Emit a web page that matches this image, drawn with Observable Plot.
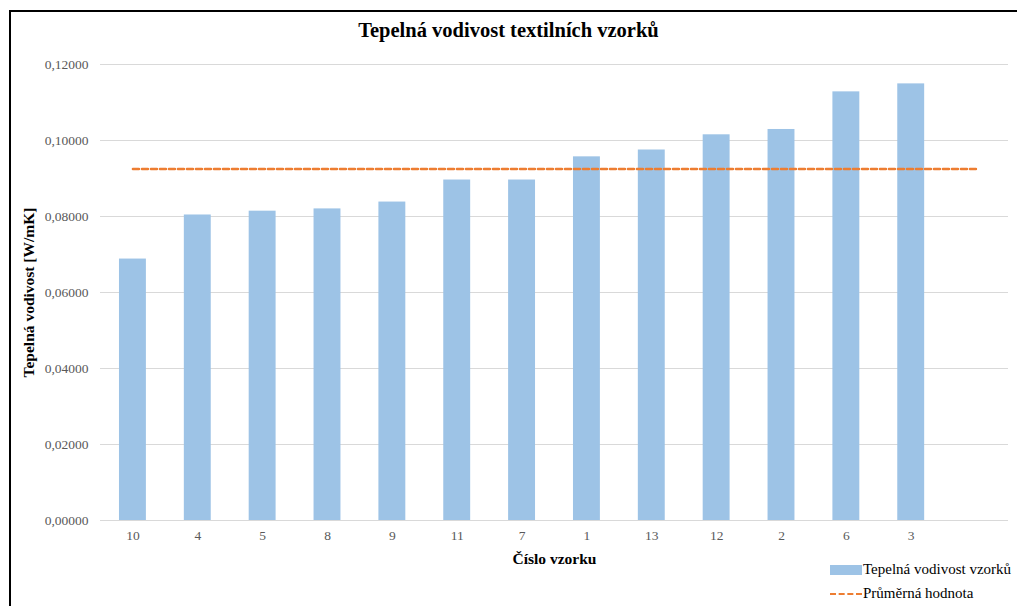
<!DOCTYPE html>
<html><head><meta charset="utf-8">
<script src="https://cdn.jsdelivr.net/npm/d3@7"></script>
<script src="https://cdn.jsdelivr.net/npm/@observablehq/plot@0.6"></script>
<style>
body{margin:0;background:#fff;}
#wrap{position:relative;width:1017px;height:606px;overflow:hidden;font-family:"Liberation Serif","Times New Roman",serif;background:#fff;}
#frame{position:absolute;left:9px;top:10px;width:1100px;height:700px;border-left:2px solid #000;border-top:2px solid #000;}
#title{position:absolute;left:0;width:1017px;top:19px;text-align:center;font-weight:bold;font-size:20.5px;color:#000;}
#chart{position:absolute;left:0;top:50px;}
#chart svg g[aria-label="x-axis label"] text,
#chart svg g[aria-label="y-axis label"] text{font-weight:bold;fill:#000;font-size:15.5px;}
.lg{position:absolute;left:830px;font-size:15px;color:#000;display:flex;align-items:center;}
.sw{display:inline-block;width:32px;height:10px;background:#9dc3e6;margin-right:1px;}
.dl{display:inline-block;width:32px;height:0;border-top:2.5px dashed #ed7d31;margin-right:1px;}
</style>
</head><body>
<div id="wrap">
  <div id="frame"></div>
  <div id="title">Tepelná vodivost textilních vzorků</div>
  <div id="chart"></div>
  <div class="lg" style="top:561px"><span class="sw"></span>Tepelná vodivost vzorků</div>
  <div class="lg" style="top:585px"><span class="dl"></span>Průměrná hodnota</div>
</div>
<script>
const samples = ["10","4","5","8","9","11","7","1","13","12","2","6","3"];
const values  = [0.0688,0.0804,0.0814,0.0820,0.0838,0.0896,0.0896,0.0957,0.0975,0.1015,0.1029,0.1128,0.1149];
const emptySlot = " ";
const averageValue = 0.0925;
const yTicks = [0,0.02,0.04,0.06,0.08,0.10,0.12];

const allCats = [...samples, emptySlot];
const barData = samples.map((s,i)=>({sample:s, value:values[i]}));
const lineData = allCats.map(c=>({sample:c, value:averageValue}));
const fmt = d => d.toFixed(5).replace(".", ",");

const chart = Plot.plot({
  width: 1017,
  height: 520,
  marginTop: 14,
  marginBottom: 50,
  marginLeft: 100,
  marginRight: 9,
  style: {fontFamily: '"Liberation Serif","Times New Roman",serif', fontSize: "13.5px", background: "transparent"},
  x: {domain: allCats, paddingInner: 0.585, paddingOuter: 0.2925, round: false},
  y: {domain: [0, 0.12]},
  marks: [
    Plot.gridY(yTicks, {stroke: "#d9d9d9", strokeOpacity: 1, strokeWidth: 1}),
    Plot.barY(barData, {x: "sample", y: "value", fill: "#9dc3e6"}),
    Plot.ruleY([0], {stroke: "#d9d9d9", strokeWidth: 1.2}),
    Plot.line(lineData, {x: "sample", y: "value", stroke: "#ed7d31", strokeWidth: 2.5, strokeDasharray: "6,3"}),
    Plot.axisY({ticks: yTicks, tickFormat: fmt, tickSize: 0, tickPadding: 12, color: "#595959",
      label: "Tepelná vodivost [W/mK]", labelAnchor: "center", labelOffset: 78, labelArrow: "none"}),
    Plot.axisX({tickSize: 0, tickPadding: 10, color: "#595959",
      label: "Číslo vzorku", labelAnchor: "center", labelOffset: 43, labelArrow: "none"})
  ]
});
document.getElementById("chart").appendChild(chart);
</script>
</body></html>
